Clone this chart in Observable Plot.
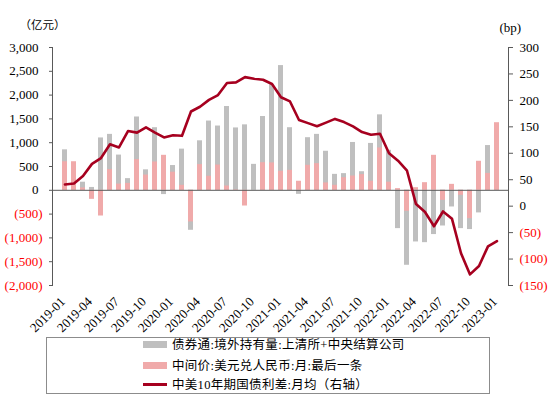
<!DOCTYPE html>
<html><head><meta charset="utf-8">
<script src="https://cdn.jsdelivr.net/npm/d3@7"></script>
<script src="https://cdn.jsdelivr.net/npm/@observablehq/plot@0.6"></script>
<style>
body{margin:0;background:#fff;}
#wrap{position:relative;width:550px;height:402px;font-family:"Liberation Serif","Noto Sans CJK SC",serif;}
#legend{position:absolute;left:46px;top:337px;width:444px;height:57px;border:1px solid #8c8c8c;box-sizing:border-box;}
.row{position:absolute;left:96px;font-size:12.5px;line-height:14px;white-space:nowrap;color:#000;letter-spacing:0.3px;}
.sw{display:inline-block;width:24px;vertical-align:middle;margin-right:5px;position:relative;top:-1px;}
</style></head><body><div id="wrap"><div id="chart"></div><div id="legend"></div></div>
<script>
const months = ["2019-01","2019-02","2019-03","2019-04","2019-05","2019-06","2019-07","2019-08","2019-09","2019-10","2019-11","2019-12",
"2020-01","2020-02","2020-03","2020-04","2020-05","2020-06","2020-07","2020-08","2020-09","2020-10","2020-11","2020-12",
"2021-01","2021-02","2021-03","2021-04","2021-05","2021-06","2021-07","2021-08","2021-09","2021-10","2021-11","2021-12",
"2022-01","2022-02","2022-03","2022-04","2022-05","2022-06","2022-07","2022-08","2022-09","2022-10","2022-11","2022-12","2023-01"];
// 债券通:境外持有量 (亿元)
const bond = [850,550,170,60,1100,1175,740,245,1540,430,1315,-90,
520,865,-840,1040,1455,1350,1760,1310,1375,545,1550,2215,
2620,1315,-85,1105,1175,820,335,350,1005,390,985,1585,
840,-805,-1575,-1085,-1100,-930,-750,-350,-805,-825,-475,940,1150];
// 中间价:美元兑人民币 (plotted on left axis)
const fx = [600,600,50,-190,-540,435,130,145,645,320,595,735,
380,105,-665,540,295,530,90,10,-330,0,580,575,
400,420,190,525,560,155,105,265,300,330,190,890,
170,35,-440,55,160,735,-210,125,-105,-595,610,355,1420];
// 中美10年期国债利差:月均 (bp, right axis)
const spread = [41,43,57,80,91,117,111,142,139,149,139,130,
134,133,179,188,201,210,233,234,244,241,239,231,
206,198,163,157,151,158,165,159,151,140,135,137,
100,86,67,4,-11,-38,-10,-24,-89,-129,-113,-76,-66];
const xTickLabels = ["2019-01","2019-04","2019-07","2019-10","2020-01","2020-04","2020-07","2020-10",
"2021-01","2021-04","2021-07","2021-10","2022-01","2022-04","2022-07","2022-10","2023-01"];
const leftTicksPos = [0,500,1000,1500,2000,2500,3000];
const leftTicksNeg = [-500,-1000,-1500,-2000];
const rightTicksPos = [0,50,100,150,200,250,300];
const rightTicksNeg = [-50,-100,-150];
const leftDomain = [-2000,3000];
const rightDomain = [-150,300];
const leftUnit = "（亿元）";
const rightUnit = "(bp)";
const legendLabels = ["债券通:境外持有量:上清所+中央结算公司","中间价:美元兑人民币:月:最后一条","中美10年期国债利差:月均（右轴）"];

const grayC = "#BFBFBF", pinkC = "#F0AAAA", lineC = "#A6001F", axisC = "#595959";

const data = months.map((m,i)=>({month:m,bond:bond[i],fx:fx[i],spread:spread[i]}));
const k = (leftDomain[1]-leftDomain[0])/(rightDomain[1]-rightDomain[0]);
const toLeft = v => leftDomain[0] + (v - rightDomain[0]) * k;
const fromLeft = v => (v - leftDomain[0]) / k + rightDomain[0];
const fmt = d => d < 0 ? "(" + d3.format(",")(-d) + ")" : d3.format(",")(d);

const chart = Plot.plot({
  width:550, height:335,
  marginTop:47, marginBottom:50, marginLeft:52, marginRight:42,
  style:{fontFamily:"Liberation Serif", fontSize:"13px", background:"#fff", overflow:"visible"},
  x:{type:"band", domain:months, paddingInner:0.5, paddingOuter:0.18, label:null},
  y:{domain:leftDomain, label:null},
  marks:[
    Plot.barY(data,{x:"month",y:"bond",fill:grayC}),
    Plot.barY(data,{x:"month",y:"fx",fill:pinkC}),
    Plot.ruleY([0],{stroke:axisC,strokeWidth:1}),
    Plot.line(data,{x:"month",y:d=>toLeft(d.spread),stroke:lineC,strokeWidth:2.6,strokeLinejoin:"round"}),
    Plot.frame({anchor:"left",stroke:axisC}),
    Plot.frame({anchor:"right",stroke:axisC}),
    Plot.axisY({ticks:leftTicksPos, anchor:"left", tickSize:3, tickPadding:11, tickFormat:fmt, stroke:axisC, fill:"#000", fontSize:13}),
    Plot.axisY({ticks:leftTicksNeg, anchor:"left", tickSize:3, tickPadding:7, tickFormat:fmt, stroke:axisC, fill:"#FF0000", fontSize:13}),
    Plot.axisY({ticks:rightTicksPos.map(toLeft), anchor:"right", tickSize:4, tickPadding:7, tickFormat:d=>fmt(Math.round(fromLeft(d))), stroke:axisC, fill:"#000", fontSize:13}),
    Plot.axisY({ticks:rightTicksNeg.map(toLeft), anchor:"right", tickSize:4, tickPadding:7, tickFormat:d=>fmt(Math.round(fromLeft(d))), stroke:axisC, fill:"#FF0000", fontSize:13}),
    Plot.axisX({ticks:xTickLabels, anchor:"bottom", tickRotate:-45, tickSize:0, tickPadding:14, dx:-2, fontSize:13, fill:"#000"}),
    Plot.text([leftUnit],{text:d=>d, frameAnchor:"top-left", dx:-33, dy:-19, textAnchor:"start", lineAnchor:"bottom", fontFamily:"Noto Sans CJK SC", fontSize:11.5, fill:"#000"}),
    Plot.text([rightUnit],{text:d=>d, frameAnchor:"top-right", dx:-9, dy:-16, textAnchor:"start", lineAnchor:"bottom", fontSize:13, fill:"#000"})
  ]
});
document.getElementById("chart").appendChild(chart);

const lg = document.getElementById("legend");
const sws = [
  `<span class="sw" style="height:7px;background:${grayC}"></span>`,
  `<span class="sw" style="height:7px;background:${pinkC}"></span>`,
  `<span class="sw" style="height:3px;background:${lineC}"></span>`
];
const tops = [-0.5, 20.5, 39.5];
legendLabels.forEach((t,i)=>{
  const r = document.createElement("div");
  r.className = "row";
  r.style.top = tops[i] + "px";
  r.innerHTML = sws[i] + `<span>${t}</span>`;
  lg.appendChild(r);
});
</script>
</body></html>
